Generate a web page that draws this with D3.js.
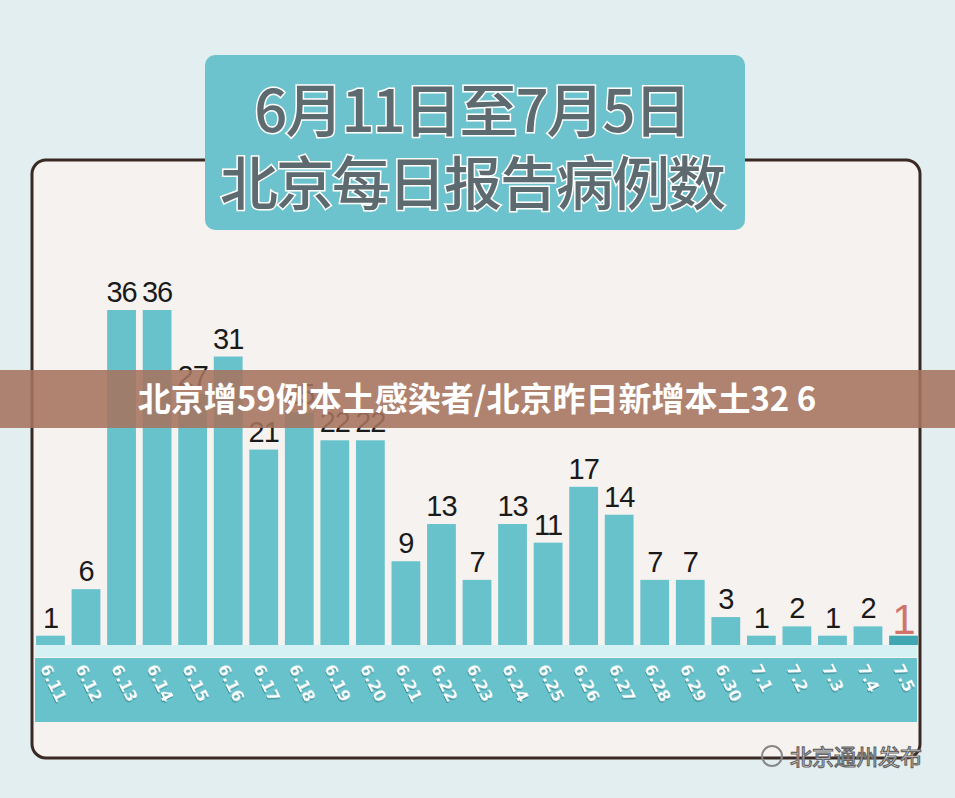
<!DOCTYPE html>
<html><head><meta charset="utf-8">
<script src="https://cdn.jsdelivr.net/npm/d3@7"></script>
<style>body{margin:0;background:#e3eef0;}svg{display:block}</style>
</head><body>
<script>
const categories=["6.11","6.12","6.13","6.14","6.15","6.16","6.17","6.18","6.19","6.20","6.21","6.22","6.23","6.24","6.25","6.26","6.27","6.28","6.29","6.30","7.1","7.2","7.3","7.4","7.5"];
const cases=[1,6,36,36,27,31,21,25,22,22,9,13,7,13,11,17,14,7,7,3,1,2,1,2,1];
const titleLines=["6月11日至7月5日","北京每日报告病例数"];
const bannerText="北京增59例本土感染者/北京昨日新增本土32 6";
const watermark="北京通州发布";

const W=955,H=798;
const svg=d3.select("body").append("svg").attr("width",W).attr("height",H);
svg.append("rect").attr("width",W).attr("height",H).attr("fill","#e3eef0");
svg.append("rect").attr("x",32).attr("y",160).attr("width",888).attr("height",598).attr("rx",14)
  .attr("fill","#f6f2ef").attr("stroke","#3b2a24").attr("stroke-width",3);
svg.append("rect").attr("x",205).attr("y",55).attr("width",540).attr("height",175).attr("rx",10).attr("fill","#6dc3cd");
titleLines.forEach((t,i)=>{
  svg.append("text").attr("x",472).attr("y",[132,205][i]).attr("text-anchor","middle")
    .attr("font-family","Noto Sans CJK SC").attr("font-size",58).attr("font-weight",500)
    .attr("fill","#5d6b70").attr("stroke","#ffffff").attr("stroke-width",3).attr("paint-order","stroke")
    .attr("letter-spacing",-2).text(t);
});
const x=d3.scaleBand().domain(categories).range([35,919]).paddingInner(0.19).paddingOuter(0.03);
const y=d3.scaleLinear().domain([0,36]).range([645,310]);
svg.append("rect").attr("x",35).attr("y",645).attr("width",882).attr("height",12).attr("fill","#d6f1f4");
svg.selectAll("rect.bar").data(cases).join("rect").attr("class","bar")
  .attr("x",(d,i)=>x(categories[i])).attr("width",x.bandwidth())
  .attr("y",d=>y(d)).attr("height",d=>645-y(d))
  .attr("fill",(d,i)=>i===cases.length-1?"#3fa6b2":"#68c2cc");
svg.selectAll("text.val").data(cases).join("text").attr("class","val")
  .attr("x",(d,i)=>x(categories[i])+x.bandwidth()/2).attr("y",(d,i)=>y(d)-(i===cases.length-1?2:8))
  .attr("text-anchor","middle").attr("font-family","Liberation Sans, Arial")
  .attr("font-size",(d,i)=>i===cases.length-1?42:29)
  .attr("fill",(d,i)=>i===cases.length-1?"#cf736c":"#1a1a1a").attr("letter-spacing",-1).text(d=>d);
svg.append("rect").attr("x",35).attr("y",658).attr("width",882).attr("height",64).attr("fill","#68c2cc");
const ax=svg.append("g").attr("transform","translate(-9,667)")
  .call(d3.axisBottom(x).tickSize(0).tickPadding(0));
ax.select(".domain").remove();
ax.selectAll("text").attr("transform","rotate(64)").attr("text-anchor","start").attr("dy","0.1em").attr("dx","0")
  .attr("font-family","DejaVu Sans").attr("font-weight","bold").attr("font-size",16)
  .attr("fill","#ffffff").style("filter","drop-shadow(1px 1px 0px #3a8d96)");
svg.append("rect").attr("x",0).attr("y",370).attr("width",W).attr("height",58).attr("fill","rgba(165,115,95,0.88)");
svg.append("text").attr("x",477).attr("y",411).attr("text-anchor","middle")
  .attr("font-family","Noto Sans CJK SC").attr("font-weight","bold").attr("font-size",33).attr("fill","#ffffff").text(bannerText);
svg.append("circle").attr("cx",772).attr("cy",756).attr("r",10).attr("fill","none").attr("stroke","#888").attr("stroke-width",2);
svg.append("text").attr("x",790).attr("y",765).attr("font-family","Noto Sans CJK SC").attr("font-size",22)
  .attr("fill","#ffffff").attr("stroke","#666").attr("stroke-width",1.2).text(watermark);
</script>
</body></html>
